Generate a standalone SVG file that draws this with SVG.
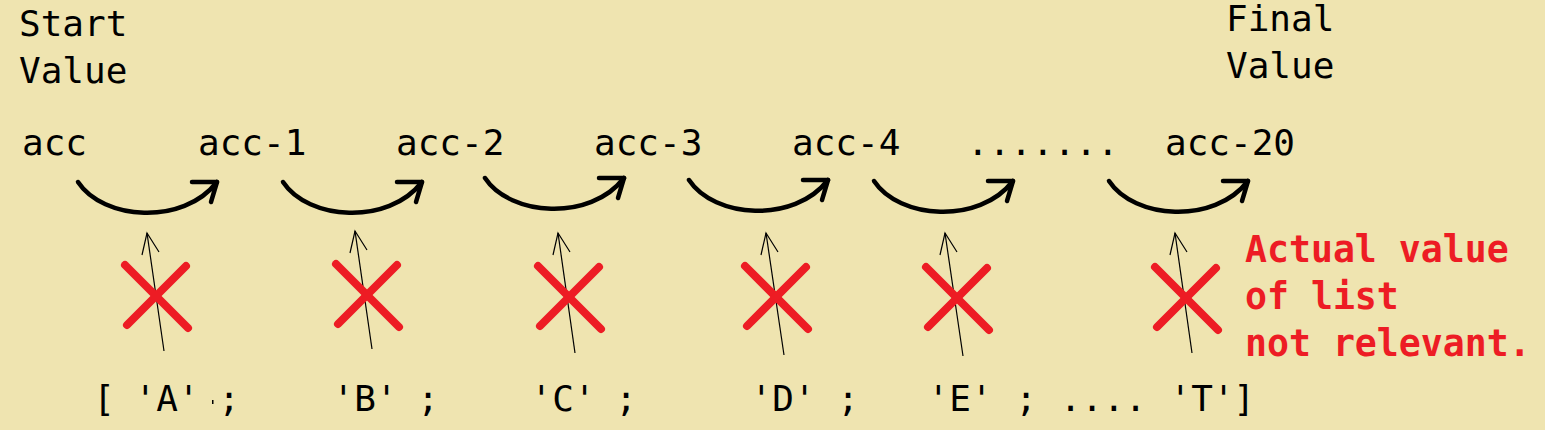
<svg xmlns="http://www.w3.org/2000/svg" width="1545" height="430" viewBox="0 0 1545 430">
<style>
  .t { font-family: "DejaVu Sans Mono", "Liberation Mono", monospace; font-size: 36px; fill: #000; }
  .b { font-family: "DejaVu Sans Mono", "Liberation Mono", monospace; font-size: 36px; fill: #000; text-anchor: middle; }
  .r { font-family: "DejaVu Sans Mono", "Liberation Mono", monospace; font-size: 36.5px; font-weight: bold; fill: #ED1C24; }
  .arc { fill: none; stroke: #000; stroke-width: 4.5; stroke-linecap: round; stroke-linejoin: round; }
  .thin { fill: none; stroke: #000; stroke-width: 1.2; }
  .x { stroke: #ED1C24; stroke-width: 8; stroke-linecap: round; }
</style>
<defs>
  <g id="arcShape">
    <path d="M0,0 C25,38 105,44 139,0"/>
    <polyline points="114,0 139,0 133,20"/>
  </g>
  <g id="upArrow">
    <polyline points="-5,22 0,0 12,19"/>
  </g>
  <g id="cross">
    <line x1="-31" y1="-31" x2="32" y2="32"/>
    <line x1="-29" y1="29" x2="30" y2="-30"/>
  </g>
</defs>
<rect width="1545" height="430" fill="#EFE4B0"/>

<g id="start-label"><text class="t" x="19" y="36">Start</text><text class="t" x="19" y="83">Value</text></g>
<g id="final-label"><text class="t" x="1226" y="31">Final</text><text class="t" x="1226" y="78">Value</text></g>

<g id="acc0"><text class="t" x="22" y="155">acc</text></g>
<g id="acc1"><text class="t" x="198" y="155">acc-1</text></g>
<g id="acc2"><text class="t" x="396" y="155">acc-2</text></g>
<g id="acc3"><text class="t" x="594" y="155">acc-3</text></g>
<g id="acc4"><text class="t" x="792" y="155">acc-4</text></g>
<g id="ellipsis"><text class="t" x="967" y="155">.......</text></g>
<g id="acc20"><text class="t" x="1165" y="155">acc-20</text></g>

<g id="connectors">
  <g class="arc">
    <use href="#arcShape" transform="translate(78,182)"/>
    <use href="#arcShape" transform="translate(283,182)"/>
    <use href="#arcShape" transform="translate(485,178)"/>
    <use href="#arcShape" transform="translate(689,180)"/>
    <use href="#arcShape" transform="translate(874,181)"/>
    <use href="#arcShape" transform="translate(1109,181)"/>
  </g>
  <g class="thin">
    <line x1="164" y1="351" x2="147" y2="233"/><use href="#upArrow" transform="translate(147,233)"/>
    <line x1="372" y1="349" x2="355" y2="231"/><use href="#upArrow" transform="translate(355,231)"/>
    <line x1="575" y1="353" x2="558" y2="233"/><use href="#upArrow" transform="translate(558,233)"/>
    <line x1="784" y1="355" x2="766" y2="233"/><use href="#upArrow" transform="translate(766,233)"/>
    <line x1="963" y1="356" x2="945" y2="233"/><use href="#upArrow" transform="translate(945,233)"/>
    <line x1="1192" y1="353" x2="1175" y2="233"/><use href="#upArrow" transform="translate(1175,233)"/>
  </g>
</g>

<g id="crosses" class="x">
  <use href="#cross" transform="translate(156,296)"/>
  <use href="#cross" transform="translate(367,295)"/>
  <use href="#cross" transform="translate(569,297)"/>
  <use href="#cross" transform="translate(776,297)"/>
  <use href="#cross" transform="translate(957,298)"/>
  <use href="#cross" transform="translate(1186,298)"/>
</g>

<g id="note">
  <text class="r" x="1245" y="262">Actual value</text>
  <text class="r" x="1245" y="309">of list</text>
  <text class="r" x="1245" y="356">not relevant.</text>
</g>

<g id="list">
  <text class="b" x="104" y="411">[</text>
  <text class="b" x="167" y="411">'A'</text>
  <rect x="212" y="400" width="1.5" height="4" fill="#000"/>
  <text class="b" x="229" y="411">;</text>
  <text class="b" x="365" y="411">'B'</text>
  <text class="b" x="428" y="411">;</text>
  <text class="b" x="563" y="411">'C'</text>
  <text class="b" x="626" y="411">;</text>
  <text class="b" x="783" y="411">'D'</text>
  <text class="b" x="848" y="411">;</text>
  <text class="b" x="960" y="411">'E'</text>
  <text class="b" x="1026" y="411">;</text>
  <text class="b" x="1103" y="411">....</text>
  <text class="b" x="1202" y="411">'T'</text>
  <text class="b" x="1244" y="411">]</text>
</g>
</svg>
